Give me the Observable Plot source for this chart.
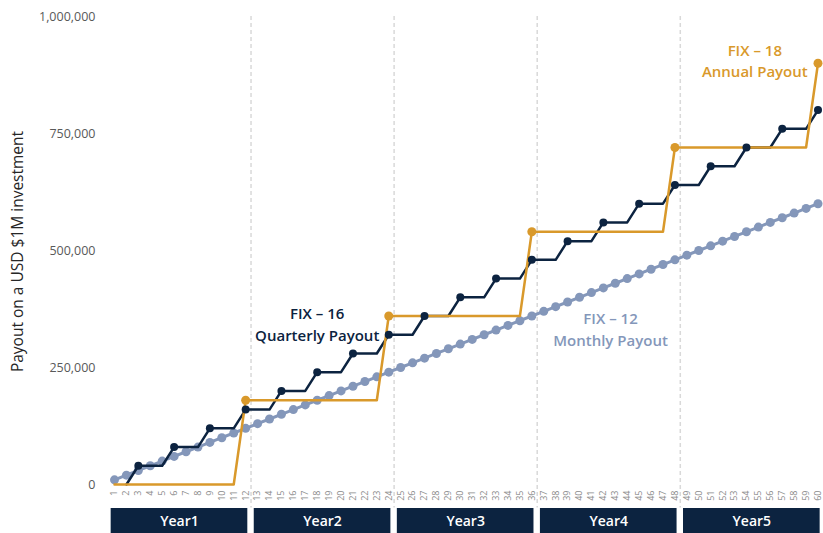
<!DOCTYPE html>
<html><head><meta charset="utf-8">
<script src="https://cdn.jsdelivr.net/npm/d3@7"></script>
<script src="https://cdn.jsdelivr.net/npm/@observablehq/plot@0.6"></script>
<style>body{margin:0;background:#fff}</style>
</head><body><div id="chart"></div>
<script>
const months = [1,2,3,4,5,6,7,8,9,10,11,12,13,14,15,16,17,18,19,20,21,22,23,24,25,26,27,28,29,30,
  31,32,33,34,35,36,37,38,39,40,41,42,43,44,45,46,47,48,49,50,51,52,53,54,55,56,57,58,59,60];
const monthlyPayout = [
  10000,20000,30000,40000,50000,60000,70000,80000,90000,100000,110000,120000,
  130000,140000,150000,160000,170000,180000,190000,200000,210000,220000,230000,240000,
  250000,260000,270000,280000,290000,300000,310000,320000,330000,340000,350000,360000,
  370000,380000,390000,400000,410000,420000,430000,440000,450000,460000,470000,480000,
  490000,500000,510000,520000,530000,540000,550000,560000,570000,580000,590000,600000];
const quarterlyPayout = [
  0,0,40000,40000,40000,80000,80000,80000,120000,120000,120000,160000,
  160000,160000,200000,200000,200000,240000,240000,240000,280000,280000,280000,320000,
  320000,320000,360000,360000,360000,400000,400000,400000,440000,440000,440000,480000,
  480000,480000,520000,520000,520000,560000,560000,560000,600000,600000,600000,640000,
  640000,640000,680000,680000,680000,720000,720000,720000,760000,760000,760000,800000];
const annualPayout = [
  0,0,0,0,0,0,0,0,0,0,0,180000,
  180000,180000,180000,180000,180000,180000,180000,180000,180000,180000,180000,360000,
  360000,360000,360000,360000,360000,360000,360000,360000,360000,360000,360000,540000,
  540000,540000,540000,540000,540000,540000,540000,540000,540000,540000,540000,720000,
  720000,720000,720000,720000,720000,720000,720000,720000,720000,720000,720000,900000];
const yearLabels = ["Year1","Year2","Year3","Year4","Year5"];
const yTicks = [0, 250000, 500000, 750000, 1000000];
const yLabel = "Payout on a USD $1M investment";
const annotations = [
  {m: 18, v: 345000, text: "FIX – 16\nQuarterly Payout", series: "q"},
  {m: 42.6, v: 334000, text: "FIX – 12\nMonthly Payout", series: "m"},
  {m: 54.7, v: 908000, text: "FIX – 18\nAnnual Payout", series: "a"}
];

const NAVY = "#0c2340", GOLD = "#d9992b", SLATE = "#8497ba";
const colors = {q: NAVY, m: SLATE, a: GOLD};

const rows = months.map((m, i) => ({m, monthly: monthlyPayout[i], quarterly: quarterlyPayout[i], annual: annualPayout[i]}));

const chart = Plot.plot({
  width: 823, height: 533,
  marginLeft: 114, marginRight: 5.5, marginTop: 16, marginBottom: 49,
  x: {domain: [1, 60]},
  y: {domain: [0, 1000000]},
  style: {fontFamily: "'Open Sans', sans-serif", background: "#fff", overflow: "visible"},
  marks: [
    Plot.ruleX([1,2,3,4], {x: d => 12 * d + 0.45, y1: 1000000, y2: -50000, stroke: "#d9d9d9", strokeWidth: 1.5, strokeDasharray: "4,3"}),
    Plot.axisY({ticks: yTicks, tickFormat: d3.format(","), tickSize: 0, tickPadding: 19, fontSize: 12.5, fill: "#595959", label: null}),
    Plot.axisX({ticks: months, tickFormat: d => String(d), tickRotate: -90, tickSize: 0, tickPadding: 6, fontSize: 9, fill: "#8a8a8a", label: null}),
    Plot.text([yLabel], {frameAnchor: "left", dx: -96, dy: 1, rotate: -90, textAnchor: "middle", text: d => d, fontSize: 15.5, fill: "#262626", letterSpacing: "0.8px"}),
    Plot.line(rows, {x: "m", y: "monthly", stroke: SLATE, strokeWidth: 3}),
    Plot.dot(rows, {x: "m", y: "monthly", r: 4.5, fill: SLATE}),
    Plot.line(rows.filter(d => d.m >= 2), {x: "m", y: "quarterly", stroke: NAVY, strokeWidth: 2.5}),
    Plot.line(rows, {x: "m", y: "annual", stroke: GOLD, strokeWidth: 2.5}),
    Plot.dot(rows.filter(d => d.m % 3 === 0), {x: "m", y: "quarterly", r: 4, fill: NAVY}),
    Plot.dot(rows.filter(d => d.m % 12 === 0), {x: "m", y: "annual", r: 4.5, fill: GOLD}),
    Plot.rect(yearLabels, {x1: (d, i) => 12 * i + 0.72, x2: (d, i) => 12 * i + 12.18, y1: -51300, y2: -106000, fill: NAVY}),
    Plot.text(yearLabels, {x: (d, i) => 12 * i + 6.45, y: -79000, text: d => d, fill: "#fff", fontSize: 14, fontWeight: 600}),
    Plot.text(annotations, {x: "m", y: "v", text: "text", fill: d => colors[d.series], fontSize: 15, fontWeight: 600, lineHeight: 1.45})
  ]
});
document.getElementById("chart").append(chart);
</script>
</body></html>
